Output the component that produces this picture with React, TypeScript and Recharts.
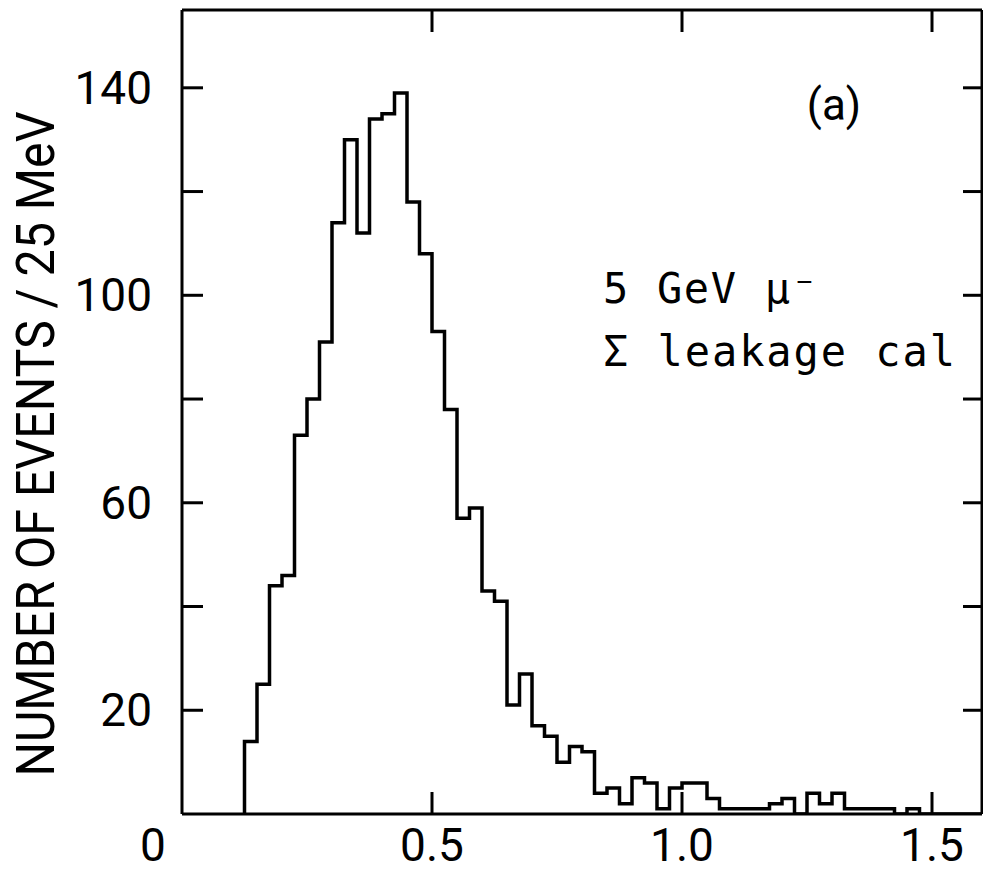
import { LineChart, Line, XAxis, YAxis, Customized } from 'recharts';

// lower edge of each 25 MeV bin (GeV)
const binLow = [
  0.125, 0.15, 0.175, 0.2, 0.225, 0.25, 0.275, 0.3, 0.325, 0.35,
  0.375, 0.4, 0.425, 0.45, 0.475, 0.5, 0.525, 0.55, 0.575, 0.6,
  0.625, 0.65, 0.675, 0.7, 0.725, 0.75, 0.775, 0.8, 0.825, 0.85,
  0.875, 0.9, 0.925, 0.95, 0.975, 1.0, 1.025, 1.05, 1.075, 1.1,
  1.125, 1.15, 1.175, 1.2, 1.225, 1.25, 1.275, 1.3, 1.325, 1.35,
  1.375, 1.4, 1.425, 1.45,
];
const histEnd = 1.475;
const axisEnd = 1.6;
const yMax = 155;

// events per bin
const counts = [
  14, 25, 44, 46, 73, 80, 91, 114, 130, 112,
  134, 135, 139, 118, 108, 93, 78, 57, 59, 43,
  41, 21, 27, 17, 15, 10, 13, 12, 4, 5,
  2, 7, 6, 1, 5, 6, 6, 3, 1, 1,
  1, 1, 2, 3, 0, 4, 2, 4, 1, 1,
  1, 1, 0, 1,
];

const xTickValues = [0, 0.5, 1.0, 1.5];
const xFrameTicks = [0.5, 1.0, 1.5];
const yLabelValues = [20, 60, 100, 140];
const yFrameTicks = [20, 40, 60, 80, 100, 120, 140];

const points = [
  { x: binLow[0], n: 0 },
  ...binLow.map((x, i) => ({ x, n: counts[i] })),
  { x: histEnd, n: 0 },
  { x: axisEnd, n: 0 },
];

// chart layout
const W = 983;
const H = 873;
const margin = { top: 10, right: 1, bottom: 0, left: 0 };
const yAxisWidth = 182;
const xAxisHeight = 59;
const plotLeft = margin.left + yAxisWidth;
const plotRight = W - margin.right;
const plotTop = margin.top;
const plotBottom = H - margin.bottom - xAxisHeight;
const xTickPx = 22;

const FONT = 'Roboto, "DejaVu Sans", sans-serif';
const MONO = '"DejaVu Sans Mono", "Liberation Mono", monospace';
const frameLine = { stroke: '#000', strokeWidth: 3 };

function XTick({ x, y, payload }: any) {
  const v = payload.value;
  return (
    <text
      x={v === 0 ? x - 29 : x}
      y={y + 39}
      textAnchor="middle"
      fontFamily={FONT}
      fontSize={46}
      fill="#000"
    >
      {v === 0 ? '0' : v.toFixed(1)}
    </text>
  );
}

function YTick({ x, y, payload }: any) {
  return (
    <text
      x={x - 22}
      y={y}
      textAnchor="end"
      dominantBaseline="central"
      fontFamily={FONT}
      fontSize={46}
      fill="#000"
    >
      {payload.value}
    </text>
  );
}

// frame ticks only, no labels
function NoLabel() {
  return <g />;
}

// inward ticks on the top and bottom frame
function XFrameTicks() {
  const toPx = (v: number) => plotLeft + (v / axisEnd) * (plotRight - plotLeft);
  return (
    <g stroke="#000" strokeWidth={3}>
      {xFrameTicks.map((v) => (
        <g key={v}>
          <line x1={toPx(v)} x2={toPx(v)} y1={plotBottom} y2={plotBottom - xTickPx} />
          <line x1={toPx(v)} x2={toPx(v)} y1={plotTop} y2={plotTop + xTickPx} />
        </g>
      ))}
    </g>
  );
}

function Annotations() {
  return (
    <g fill="#000">
      <text
        x={35}
        y={444}
        transform="rotate(-90 35 444)"
        textAnchor="middle"
        dominantBaseline="central"
        fontFamily={FONT}
        fontSize={54}
        textLength={665}
        lengthAdjust="spacingAndGlyphs"
      >
        NUMBER OF EVENTS / 25 MeV
      </text>
      <text
        x={834}
        y={105}
        textAnchor="middle"
        dominantBaseline="central"
        fontFamily={FONT}
        fontSize={44}
      >
        (a)
      </text>
      <text x={603} y={303} fontFamily={MONO} fontSize={42} textLength={214} lengthAdjust="spacing">
        5 GeV μ⁻
      </text>
      <text x={603} y={366} fontFamily={MONO} fontSize={42} textLength={352} lengthAdjust="spacing">
        Σ leakage cal
      </text>
    </g>
  );
}

export default function App() {
  return (
    <div style={{ position: 'absolute', left: 0, top: 0, background: '#fff' }}>
      <LineChart width={W} height={H} data={points} margin={margin}>
        <XAxis
          dataKey="x"
          type="number"
          domain={[0, axisEnd]}
          allowDataOverflow
          ticks={xTickValues}
          interval={0}
          height={xAxisHeight}
          axisLine={frameLine}
          tickLine={false}
          tick={<XTick />}
        />
        <XAxis
          xAxisId="top"
          dataKey="x"
          orientation="top"
          type="number"
          domain={[0, axisEnd]}
          allowDataOverflow
          ticks={xFrameTicks}
          interval={0}
          mirror
          axisLine={frameLine}
          tickLine={false}
          tick={<NoLabel />}
        />
        <YAxis
          type="number"
          domain={[0, yMax]}
          allowDataOverflow
          ticks={yLabelValues}
          interval={0}
          width={yAxisWidth}
          axisLine={frameLine}
          tickLine={false}
          tick={<YTick />}
        />
        <YAxis
          yAxisId="leftTicks"
          dataKey="n"
          type="number"
          domain={[0, yMax]}
          allowDataOverflow
          ticks={yFrameTicks}
          interval={0}
          mirror
          axisLine={false}
          tickLine={frameLine}
          tickSize={21}
          tick={<NoLabel />}
        />
        <YAxis
          yAxisId="right"
          dataKey="n"
          orientation="right"
          type="number"
          domain={[0, yMax]}
          allowDataOverflow
          ticks={yFrameTicks}
          interval={0}
          mirror
          axisLine={frameLine}
          tickLine={frameLine}
          tickSize={19}
          tick={<NoLabel />}
        />
        <Line
          dataKey="n"
          type="stepAfter"
          stroke="#000"
          strokeWidth={3.5}
          dot={false}
          activeDot={false}
          isAnimationActive={false}
        />
        <Customized component={<XFrameTicks />} />
        <Customized component={<Annotations />} />
      </LineChart>
    </div>
  );
}
